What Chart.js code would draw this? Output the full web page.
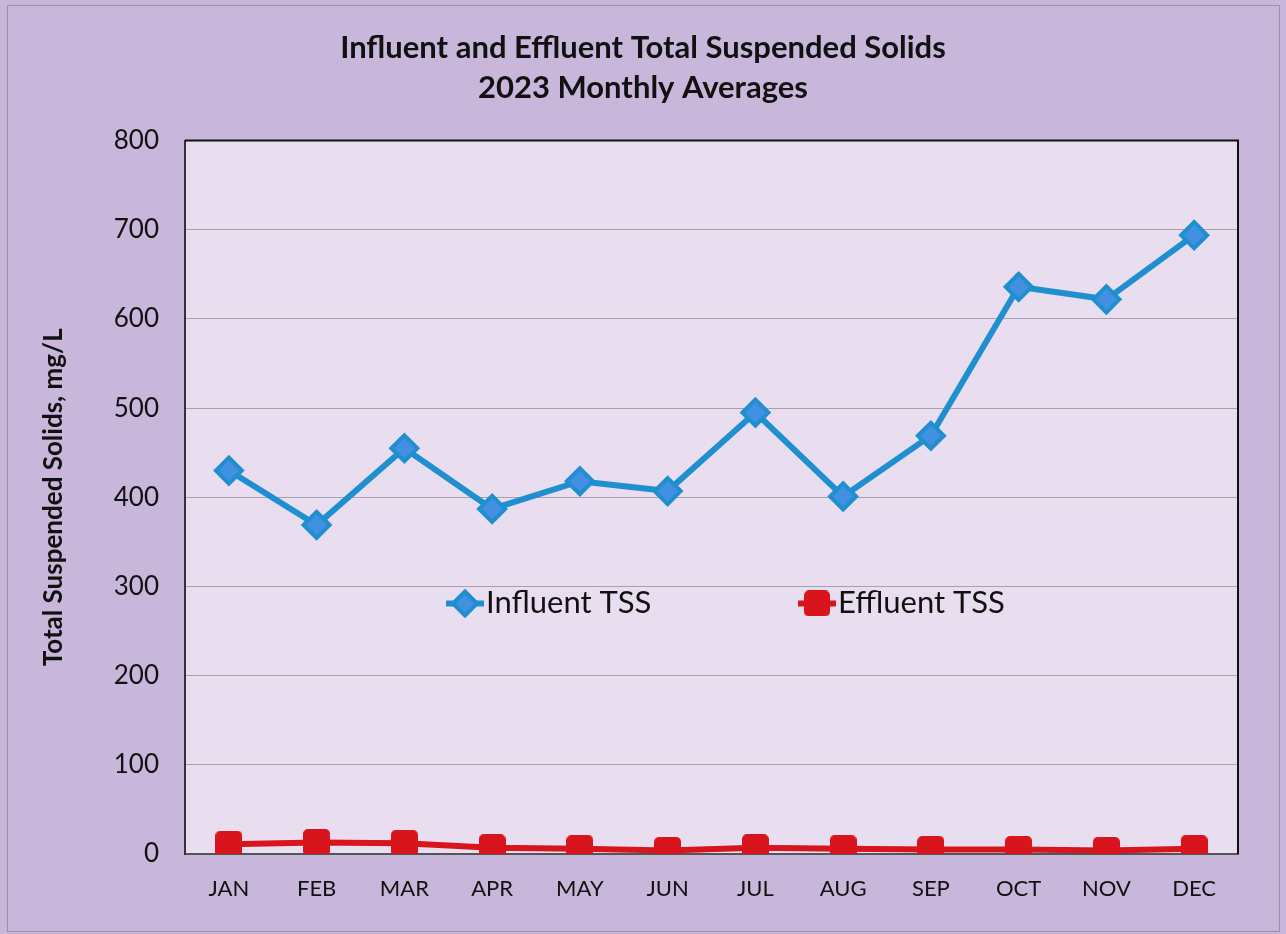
<!DOCTYPE html>
<html>
<head>
<meta charset="utf-8">
<script src="https://cdn.jsdelivr.net/npm/chart.js@4.4.1/dist/chart.umd.min.js"></script>
<style>
  html, body { margin: 0; padding: 0; background: #c8b7da; }
  #wrap { width: 1286px; height: 934px; }
</style>
</head>
<body>
<div id="wrap"><canvas id="tssChart" width="1286" height="934"></canvas></div>
<script>
// dados
const meses = ['JAN', 'FEB', 'MAR', 'APR', 'MAY', 'JUN', 'JUL', 'AUG', 'SEP', 'OCT', 'NOV', 'DEC'];
const influente = [430, 369, 455, 387, 418, 407, 495, 401, 469, 636, 622, 694];
const efluente = [11, 13, 12, 7, 6, 4, 7, 6, 5, 5, 4, 6];
const tituloLinhas = ['Influent and Effluent Total Suspended Solids', '2023 Monthly Averages'];
const tituloEixoY = 'Total Suspended Solids, mg/L';

const FONTE = "Lato, 'Open Sans', sans-serif";
const VERMELHO = '#d8141c';

// quadrado com cantos levemente arredondados para o efluente
function quadrado(lado, cor) {
  const c = document.createElement('canvas');
  c.width = lado; c.height = lado;
  const g = c.getContext('2d');
  g.fillStyle = cor;
  g.beginPath();
  g.roundRect(0, 0, lado, lado, 5);
  g.fill();
  return c;
}
const marcadorEfluente = quadrado(27, VERMELHO);

// fundo da figura + área do gráfico + borda superior/direita
const fundoPlugin = {
  id: 'fundo',
  beforeDraw(chart) {
    const { ctx, chartArea: a, width, height } = chart;
    ctx.save();
    ctx.fillStyle = '#c8b7da';
    ctx.fillRect(0, 0, width, height);
    ctx.strokeStyle = '#9a93a0';
    ctx.lineWidth = 1;
    ctx.strokeRect(7.5, 5.5, width - 14, height - 8);
    ctx.fillStyle = '#e9ddf0';
    ctx.fillRect(a.left, a.top, a.right - a.left, a.bottom - a.top);
    ctx.restore();
  },
  afterDraw(chart) {
    const { ctx, chartArea: a } = chart;
    ctx.save();
    ctx.strokeStyle = '#111';
    ctx.lineWidth = 2;
    ctx.beginPath();
    ctx.moveTo(a.left, a.top);
    ctx.lineTo(a.right, a.top);
    ctx.lineTo(a.right, a.bottom);
    ctx.stroke();
    ctx.restore();
  }
};

// legenda desenhada dentro da área do gráfico
const legendaPlugin = {
  id: 'legendaInterna',
  afterDatasetsDraw(chart) {
    const { ctx, chartArea: a } = chart;
    const y = chart.scales.y.getPixelForValue(300) + 17;
    const posicoes = [a.left + 280, a.left + 632];
    ctx.save();
    chart.data.datasets.forEach((ds, i) => {
      const cx = posicoes[i];
      ctx.strokeStyle = ds.borderColor;
      ctx.lineWidth = 6;
      ctx.beginPath();
      ctx.moveTo(cx - 19, y);
      ctx.lineTo(cx + 19, y);
      ctx.stroke();
      if (ds.pointStyle === 'rectRot') {
        const r = 12;
        ctx.fillStyle = ds.pointBackgroundColor;
        ctx.strokeStyle = ds.pointBorderColor;
        ctx.lineWidth = ds.pointBorderWidth;
        ctx.beginPath();
        ctx.moveTo(cx, y - r); ctx.lineTo(cx + r, y); ctx.lineTo(cx, y + r); ctx.lineTo(cx - r, y); ctx.closePath();
        ctx.fill();
        ctx.stroke();
      } else {
        ctx.drawImage(ds.pointStyle, cx - 13, y - 13, 26, 26);
      }
      ctx.fillStyle = '#111';
      ctx.font = '31px ' + FONTE;
      ctx.textBaseline = 'middle';
      ctx.textAlign = 'left';
      ctx.fillText(ds.label, cx + 21, y);
    });
    ctx.restore();
  }
};

new Chart(document.getElementById('tssChart'), {
  type: 'line',
  data: {
    labels: meses,
    datasets: [
      {
        label: 'Influent TSS',
        data: influente,
        borderColor: '#1f8fd0',
        borderWidth: 6,
        pointStyle: 'rectRot',
        pointRadius: 13,
        pointBackgroundColor: '#4190e2',
        pointBorderColor: '#1f8fd0',
        pointBorderWidth: 4,
        tension: 0
      },
      {
        label: 'Effluent TSS',
        data: efluente,
        borderColor: VERMELHO,
        borderWidth: 6,
        pointStyle: marcadorEfluente,
        pointRadius: 14,
        pointBackgroundColor: VERMELHO,
        pointBorderColor: VERMELHO,
        pointBorderWidth: 1,
        tension: 0
      }
    ]
  },
  options: {
    responsive: false,
    animation: false,
    layout: { padding: 0 },
    plugins: {
      legend: { display: false },
      tooltip: { enabled: false },
      title: {
        display: true,
        text: tituloLinhas,
        color: '#111',
        font: { family: FONTE, size: 31, weight: 'bold', lineHeight: 1.3 },
        padding: { top: 28, bottom: 32 }
      }
    },
    scales: {
      x: {
        offset: true,
        grid: { display: false, drawTicks: false },
        border: { display: true, color: '#555', width: 2 },
        ticks: { color: '#111', font: { family: FONTE, size: 22 }, padding: 22 },
        afterFit(scale) { scale.height = 80; }
      },
      y: {
        min: 0,
        max: 800,
        ticks: { stepSize: 100, color: '#111', font: { family: FONTE, size: 26 }, padding: 26 },
        grid: { color: '#a8a0ad', lineWidth: 1, drawTicks: false },
        border: { display: true, color: '#333', width: 2 },
        title: {
          display: true,
          text: tituloEixoY,
          color: '#111',
          font: { family: FONTE, size: 26, weight: 'bold' },
          padding: { top: 38, bottom: 0 }
        },
        afterFit(scale) { scale.width = 185; }
      },
      // eixo vazio à direita só para reservar a margem
      yDir: {
        position: 'right',
        display: true,
        grid: { display: false, drawTicks: false },
        border: { display: false },
        ticks: { display: false },
        afterFit(scale) { scale.width = 48; }
      }
    }
  },
  plugins: [fundoPlugin, legendaPlugin]
});
</script>
</body>
</html>
